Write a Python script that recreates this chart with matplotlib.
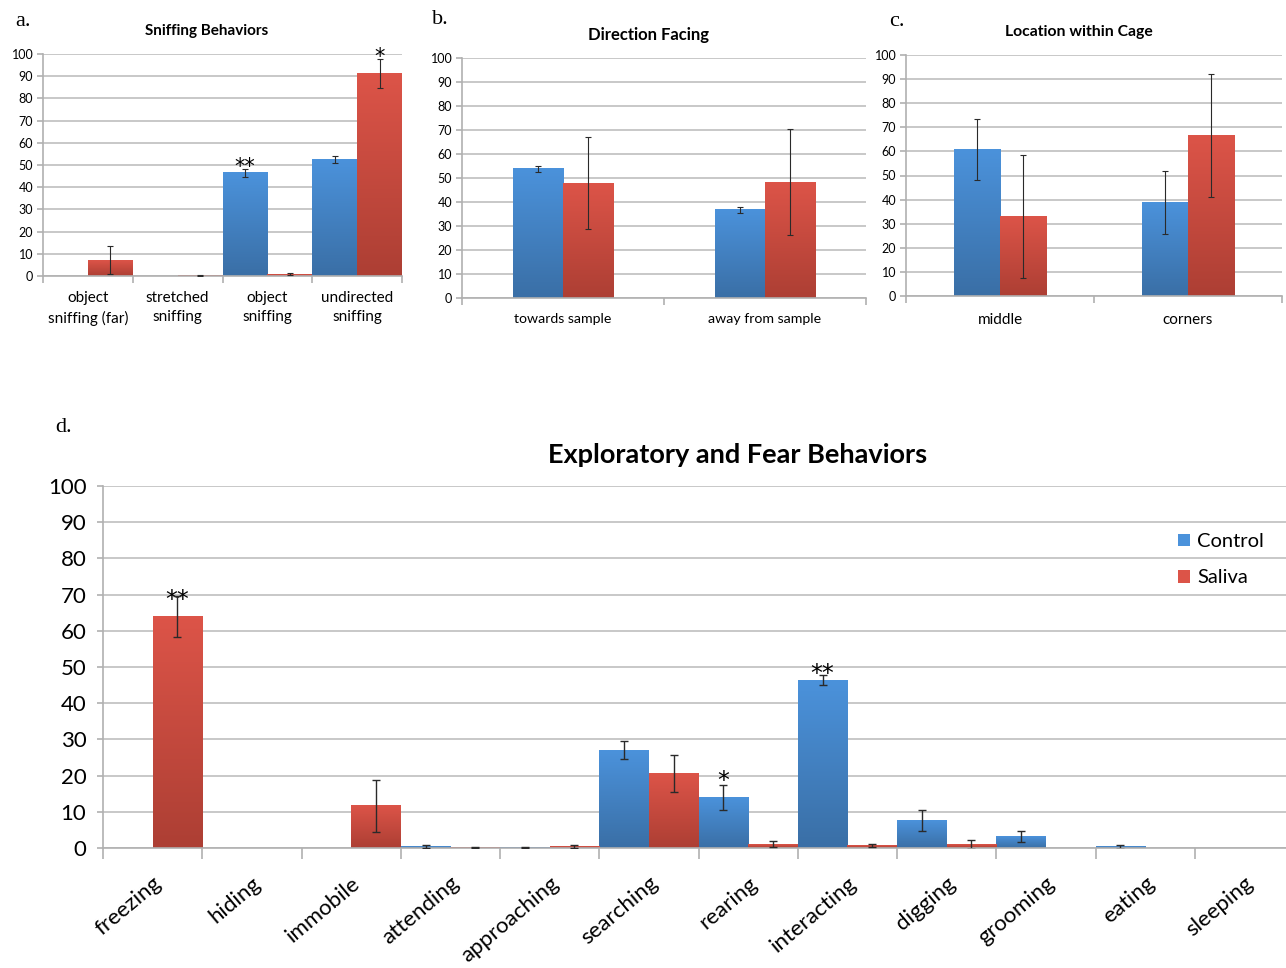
import numpy as np
import matplotlib
matplotlib.use("Agg")
import matplotlib.pyplot as plt
from matplotlib.colors import LinearSegmentedColormap
from matplotlib.patches import Patch

plt.rcParams['font.family'] = ['Lato', 'DejaVu Sans']

# ---- data ----
sniff_cats = ["object\nsniffing (far)", "stretched\nsniffing", "object\nsniffing", "undirected\nsniffing"]
sniff_ctrl = [0, 0, 46.5, 52.6]
sniff_ctrl_err = [0, 0, 1.8, 1.5]
sniff_sal = [7.0, 0.3, 0.8, 91.2]
sniff_sal_err = [6.3, 0.2, 0.5, 6.6]

dir_cats = ["towards sample", "away from sample"]
dir_ctrl = [53.9, 36.8]
dir_ctrl_err = [1.2, 1.2]
dir_sal = [47.9, 48.3]
dir_sal_err = [19.0, 22.0]

loc_cats = ["middle", "corners"]
loc_ctrl = [60.8, 38.8]
loc_ctrl_err = [12.7, 13.0]
loc_sal = [33.0, 66.6]
loc_sal_err = [25.4, 25.6]

beh_cats = ["freezing", "hiding", "immobile", "attending", "approaching", "searching",
            "rearing", "interacting", "digging", "grooming", "eating", "sleeping"]
beh_ctrl = [0, 0, 0, 0.4, 0.2, 27.0, 13.9, 46.4, 7.6, 3.1, 0.3, 0]
beh_ctrl_err = [0, 0, 0, 0.3, 0.1, 2.5, 3.4, 1.3, 3.0, 1.5, 0.5, 0]
beh_sal = [63.9, 0, 11.7, 0.2, 0.4, 20.5, 1.1, 0.7, 1.0, 0, 0, 0]
beh_sal_err = [5.7, 0, 7.2, 0.1, 0.3, 5.1, 0.9, 0.5, 1.2, 0, 0, 0]

BLUE = ("#4b92db", "#3a6fa6")
RED = ("#dc5448", "#ad3f34")
W, H = 1286, 968


def shade(ax, bars, colors):
    cmap = LinearSegmentedColormap.from_list("g", [colors[1], colors[0]])
    grad = np.linspace(0, 1, 64).reshape(-1, 1)
    for b in bars:
        x0, y0 = b.get_xy()
        w, h = b.get_width(), b.get_height()
        b.set_facecolor("none")
        b.set_edgecolor("none")
        if h <= 0:
            continue
        ax.imshow(grad, extent=[x0, x0 + w, y0, y0 + h], origin="lower",
                  cmap=cmap, aspect="auto", zorder=2, interpolation="bilinear")


def panel(rect, cats, ctrl, ctrl_err, sal, sal_err, width, lab_size, tick_size,
          capsize=2, elw=0.8):
    l, t, r, b = rect
    ax = fig.add_axes([l / W, 1 - b / H, (r - l) / W, (b - t) / H])
    x = np.arange(len(cats))
    b1 = ax.bar(x - width / 2, ctrl, width, zorder=2)
    b2 = ax.bar(x + width / 2, sal, width, zorder=2)
    shade(ax, b1, BLUE)
    shade(ax, b2, RED)
    for xs, v, e in [(x - width / 2, ctrl, ctrl_err), (x + width / 2, sal, sal_err)]:
        m = np.array(e) > 0
        ax.errorbar(xs[m], np.array(v)[m], yerr=np.array(e)[m], fmt="none",
                    ecolor="#2a2a2a", elinewidth=elw, capsize=capsize, capthick=elw, zorder=4)
    ax.set_xlim(-0.5, len(cats) - 0.5)
    ax.set_ylim(0, 100)
    ax.set_yticks(np.arange(0, 101, 10))
    ax.yaxis.grid(True, color="#c8c8c8", lw=1.4)
    ax.set_axisbelow(True)
    for s in ["top", "right"]:
        ax.spines[s].set_visible(False)
    for s in ["left", "bottom"]:
        ax.spines[s].set_color("#b0b0b0")
        ax.spines[s].set_linewidth(1.2)
    ax.set_xticks(np.arange(len(cats) + 1) - 0.5)
    ax.set_xticklabels([])
    ax.set_xticks(x, minor=True)
    ax.tick_params(axis="x", which="major", length=5, color="#b0b0b0", width=1.2)
    ax.tick_params(axis="x", which="minor", length=0)
    ax.tick_params(axis="y", length=4, color="#b0b0b0", width=1.2, labelsize=tick_size, pad=3)
    ax.set_xticklabels(cats, minor=True, fontsize=lab_size)
    return ax


fig = plt.figure(figsize=(W / 100, H / 100), dpi=100)

# a. sniffing
axa = panel((43, 54, 402, 276), sniff_cats, sniff_ctrl, sniff_ctrl_err, sniff_sal,
            sniff_sal_err, 0.5, 11, 9)
axa.tick_params(axis="x", which="minor", pad=11)
for lab in axa.get_xticklabels(minor=True):
    lab.set_linespacing(1.45)
axa.text(2 - 0.25, 49, "**", ha="center", va="center", fontsize=15, family="DejaVu Sans")
axa.text(3 + 0.25, 98.5, "*", ha="center", va="center", fontsize=15, family="DejaVu Sans")

# b. direction facing
axb = panel((462, 58, 866, 298), dir_cats, dir_ctrl, dir_ctrl_err, dir_sal,
            dir_sal_err, 0.25, 10.2, 9)
axb.tick_params(axis="x", which="minor", pad=11)

# c. location within cage
axc = panel((906, 55, 1282, 296), loc_cats, loc_ctrl, loc_ctrl_err, loc_sal,
            loc_sal_err, 0.245, 11, 9)
axc.tick_params(axis="x", which="minor", pad=12)

# d. exploratory and fear behaviours
axd = panel((103, 486, 1294, 848), beh_cats, beh_ctrl, beh_ctrl_err, beh_sal,
            beh_sal_err, 0.5, 16, 16, capsize=3, elw=1.0)
axd.tick_params(axis="x", which="major", length=8)
axd.tick_params(axis="y", pad=8)
plt.setp(axd.get_xticklabels(minor=True), rotation=40, ha="right", rotation_mode="anchor")
axd.tick_params(axis="x", which="minor", pad=18)
axd.text(0.25, 68.5, "**", ha="center", va="center", fontsize=17, family="DejaVu Sans")
axd.text(7 - 0.25, 48.2, "**", ha="center", va="center", fontsize=17, family="DejaVu Sans")
axd.text(6 - 0.25, 18.6, "*", ha="center", va="center", fontsize=17, family="DejaVu Sans")

fig.legend(handles=[Patch(facecolor=BLUE[0], edgecolor="none"),
                    Patch(facecolor=RED[0], edgecolor="none")],
           labels=["Control", "Saliva"], loc="upper left",
           bbox_to_anchor=(1160 / W, 1 - 515 / H), frameon=False, fontsize=14.5,
           handlelength=0.6, handleheight=0.6, handletextpad=0.35, labelspacing=0.95)

# titles and panel letters
fig.text(207 / W, 1 - 31 / H, "Sniffing Behaviors", ha="center", va="center",
         fontsize=11, fontweight="bold")
fig.text(648 / W, 1 - 35 / H, "Direction Facing", ha="center", va="center",
         fontsize=12, fontweight="bold")
fig.text(1079 / W, 1 - 32 / H, "Location within Cage", ha="center", va="center",
         fontsize=11.3, fontweight="bold")
fig.text(738 / W, 1 - 455 / H, "Exploratory and Fear Behaviors", ha="center", va="center",
         fontsize=19.5, fontweight="bold")
for s, x, y in [("a.", 15, 22), ("b.", 432, 20), ("c.", 889, 22), ("d.", 55, 428)]:
    fig.text(x / W, 1 - y / H, s, ha="left", va="center", fontsize=16,
             family="Liberation Serif")

fig.savefig("out.png", dpi=100)
